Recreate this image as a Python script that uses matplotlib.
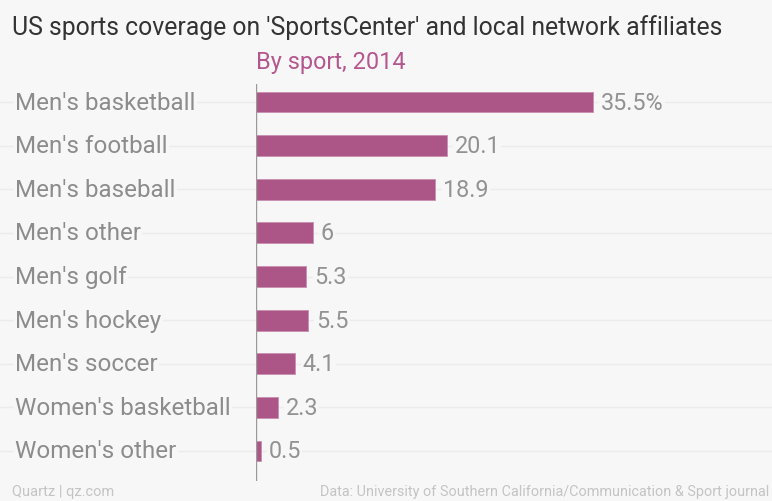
import matplotlib
matplotlib.use("Agg")
import matplotlib.pyplot as plt

categories = ["Men's basketball", "Men's football", "Men's baseball", "Men's other",
              "Men's golf", "Men's hockey", "Men's soccer", "Women's basketball",
              "Women's other"]
values = [35.5, 20.1, 18.9, 6, 5.3, 5.5, 4.1, 2.3, 0.5]
value_labels = ["35.5%", "20.1", "18.9", "6", "5.3", "5.5", "4.1", "2.3", "0.5"]

W, H = 772, 502
BG = "#f7f7f7"
BAR = "#ab5686"
GRAY = "#8c8c8c"
plt.rcParams['font.family'] = ['Roboto', 'DejaVu Sans']

fig = plt.figure(figsize=(W/100, H/100), dpi=100, facecolor=BG)

ax_left, ax_right = 256, 765
ax_top, ax_bot = 85, 482
ax = fig.add_axes([ax_left/W, 1-ax_bot/H, (ax_right-ax_left)/W, (ax_bot-ax_top)/H])
ax.set_facecolor("none")

px_per_unit = (593-256)/35.5
ax.set_xlim(0, (ax_right-ax_left)/px_per_unit)
spacing = (452-103)/8
ax.set_ylim(8 + (ax_bot-452)/spacing, -(103-ax_top)/spacing)

y = list(range(len(categories)))
for yi in y:
    fig.add_artist(plt.Line2D([0, 1], [1-(103+yi*spacing)/H]*2, color="#ececec",
                              lw=1, zorder=0))
ax.barh(y, values, height=0.48, color=BAR, edgecolor="#c98fb0", linewidth=0.6, zorder=3)
for yi, v, lab in zip(y, values, value_labels):
    ax.text(v + 0.8, yi, lab, va="center", ha="left", fontsize=16.8, color="#929292",
            zorder=4, bbox=dict(facecolor=BG, edgecolor="none", pad=1))
for yi, c in zip(y, categories):
    fig.text(15/W, 1-(103+yi*spacing)/H, c, va="center", ha="left", fontsize=17.4,
             color=GRAY, bbox=dict(facecolor=BG, edgecolor="none", pad=1))

ax.axvline(0, color="#9a9a9a", lw=1, zorder=5)
for s in ax.spines.values():
    s.set_visible(False)
ax.set_xticks([])
ax.set_yticks([])

fig.text(12/W, 1-28/H, "US sports coverage on 'SportsCenter' and local network affiliates",
         fontsize=17.8, color="#333333", va="center", ha="left")
fig.text(256/W, 1-62/H, "By sport, 2014", fontsize=16.9, color="#b5578f",
         va="center", ha="left")
fig.text(12/W, 1-492/H, "Quartz | qz.com", fontsize=10.5, color="#c4c4c4",
         va="center", ha="left")
fig.text(320/W, 1-492/H, "Data: University of Southern California/Communication & Sport journal",
         fontsize=10.4, color="#c4c4c4", va="center", ha="left")

fig.savefig("out.png", dpi=100, facecolor=BG)
